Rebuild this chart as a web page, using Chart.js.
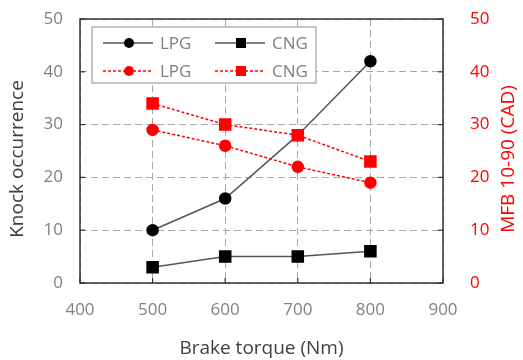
<!DOCTYPE html>
<html lang="en">
<head>
    <meta charset="UTF-8">
    <title>Knock occurrence and MFB 10-90</title>
    <script src="https://cdn.jsdelivr.net/npm/chart.js"></script>
    <style>
        html, body { margin: 0; padding: 0; background: #fff; }
        #wrap { width: 523px; height: 360px; }
    </style>
</head>
<body>
    <div id="wrap"><canvas id="chart" width="523" height="360"></canvas></div>
    <script>
        const torque = [500, 600, 700, 800];
        const knockLPG = [10, 16, 28, 42];
        const knockCNG = [3, 5, 5, 6];
        const mfbLPG = [29, 26, 22, 19];
        const mfbCNG = [34, 30, 28, 23];
        const xTicks = [400, 500, 600, 700, 800, 900];
        const yTicks = [0, 10, 20, 30, 40, 50];

        const FONT = '"Open Sans", "DejaVu Sans", sans-serif';
        const RED = '#ff0000';
        const GREY_TXT = '#808080';
        const TITLE_TXT = '#404040';

        const pts = vals => torque.map((t, i) => ({ x: t, y: vals[i] }));

        // frame, tick marks, axis titles and the legend box inside the plot
        const framePlugin = {
            id: 'frame',
            afterDraw(chart) {
                const { ctx, chartArea: a } = chart;
                ctx.save();
                ctx.strokeStyle = '#333';
                ctx.lineWidth = 1.5;
                ctx.strokeRect(a.left, a.top, a.right - a.left, a.bottom - a.top);

                ctx.lineWidth = 1.2;
                const sx = chart.scales.x, sl = chart.scales.y, sr = chart.scales.y2;
                xTicks.forEach(v => {
                    const px = sx.getPixelForValue(v);
                    ctx.beginPath(); ctx.moveTo(px, a.bottom); ctx.lineTo(px, a.bottom - 5); ctx.stroke();
                });
                yTicks.forEach(v => {
                    const py = sl.getPixelForValue(v);
                    ctx.beginPath(); ctx.moveTo(a.left, py); ctx.lineTo(a.left + 5, py); ctx.stroke();
                    const pr = sr.getPixelForValue(v);
                    ctx.beginPath(); ctx.moveTo(a.right, pr); ctx.lineTo(a.right - 5, pr); ctx.stroke();
                });

                // axis titles
                ctx.font = '19px ' + FONT;
                ctx.textAlign = 'center';
                ctx.textBaseline = 'middle';
                ctx.fillStyle = TITLE_TXT;
                ctx.fillText('Brake torque (Nm)', (a.left + a.right) / 2, 349);
                ctx.save();
                ctx.translate(18, 159);
                ctx.rotate(-Math.PI / 2);
                ctx.fillText('Knock occurrence', 0, 0);
                ctx.restore();
                ctx.save();
                ctx.translate(509, 159);
                ctx.rotate(-Math.PI / 2);
                ctx.fillStyle = RED;
                ctx.fillText('MFB 10-90 (CAD)', 0, 0);
                ctx.restore();

                // legend
                const bx = 92, by = 27, bw = 224, bh = 56;
                ctx.fillStyle = '#fff';
                ctx.fillRect(bx, by, bw, bh);
                ctx.strokeStyle = '#a0a0a0';
                ctx.lineWidth = 1.2;
                ctx.strokeRect(bx, by, bw, bh);

                const items = [
                    { x: 103, y: 43, line: '#555', dash: [], fill: '#000', shape: 'circle', text: 'LPG' },
                    { x: 215, y: 43, line: '#555', dash: [], fill: '#000', shape: 'rect', text: 'CNG' },
                    { x: 103, y: 71, line: RED, dash: [3, 2], fill: RED, shape: 'circle', text: 'LPG' },
                    { x: 215, y: 71, line: RED, dash: [3, 2], fill: RED, shape: 'rect', text: 'CNG' }
                ];
                ctx.textAlign = 'left';
                items.forEach(it => {
                    ctx.strokeStyle = it.line;
                    ctx.lineWidth = 1.5;
                    ctx.setLineDash(it.dash);
                    ctx.beginPath(); ctx.moveTo(it.x, it.y); ctx.lineTo(it.x + 50, it.y); ctx.stroke();
                    ctx.setLineDash([]);
                    ctx.fillStyle = it.fill;
                    const cx = it.x + 26;
                    if (it.shape === 'circle') {
                        ctx.beginPath(); ctx.arc(cx, it.y, 5, 0, Math.PI * 2); ctx.fill();
                    } else {
                        ctx.fillRect(cx - 5, it.y - 5, 10, 10);
                    }
                    ctx.fillStyle = GREY_TXT;
                    ctx.font = '17px ' + FONT;
                    ctx.fillText(it.text, it.x + 57, it.y + 1);
                });
                ctx.restore();
            }
        };

        const fitY = s => { s.width = 80; s.paddingTop = 0; s.paddingBottom = 0; };

        new Chart(document.getElementById('chart'), {
            type: 'line',
            data: {
                datasets: [
                    {
                        label: 'LPG', data: pts(knockLPG), yAxisID: 'y', order: 2,
                        borderColor: '#555', borderWidth: 1.5, pointStyle: 'circle',
                        pointRadius: 5.5, pointBackgroundColor: '#000', pointBorderColor: '#000'
                    },
                    {
                        label: 'CNG', data: pts(knockCNG), yAxisID: 'y', order: 2,
                        borderColor: '#555', borderWidth: 1.5, pointStyle: 'rect',
                        pointRadius: 7.8, pointBackgroundColor: '#000', pointBorderColor: '#000'
                    },
                    {
                        label: 'LPG', data: pts(mfbLPG), yAxisID: 'y2', order: 1,
                        borderColor: RED, borderWidth: 1.5, borderDash: [3, 2], pointStyle: 'circle',
                        pointRadius: 5.5, pointBackgroundColor: RED, pointBorderColor: RED
                    },
                    {
                        label: 'CNG', data: pts(mfbCNG), yAxisID: 'y2', order: 1,
                        borderColor: RED, borderWidth: 1.5, borderDash: [3, 2], pointStyle: 'rect',
                        pointRadius: 7.8, pointBackgroundColor: RED, pointBorderColor: RED
                    }
                ]
            },
            options: {
                responsive: false,
                animation: false,
                layout: { autoPadding: false, padding: { top: 19, left: 0, right: 0, bottom: 0 } },
                plugins: { legend: { display: false }, tooltip: { enabled: false } },
                scales: {
                    x: {
                        type: 'linear', min: 400, max: 900,
                        afterFit: s => { s.height = 77; s.paddingLeft = 0; s.paddingRight = 0; },
                        ticks: { stepSize: 100, color: GREY_TXT, font: { family: FONT, size: 17 }, padding: 17 },
                        grid: { color: '#a8a8a8', lineWidth: 1, drawTicks: false },
                        border: { display: false, dash: [7, 4] }
                    },
                    y: {
                        position: 'left', min: 0, max: 50,
                        afterFit: fitY,
                        ticks: { stepSize: 10, color: GREY_TXT, font: { family: FONT, size: 17 }, padding: 17 },
                        grid: { color: '#a8a8a8', lineWidth: 1, drawTicks: false },
                        border: { display: false, dash: [7, 4] }
                    },
                    y2: {
                        position: 'right', min: 0, max: 50,
                        afterFit: fitY,
                        ticks: { stepSize: 10, color: RED, font: { family: FONT, size: 17 }, padding: 19 },
                        grid: { display: false },
                        border: { display: false }
                    }
                }
            },
            plugins: [framePlugin]
        });
    </script>
</body>
</html>
